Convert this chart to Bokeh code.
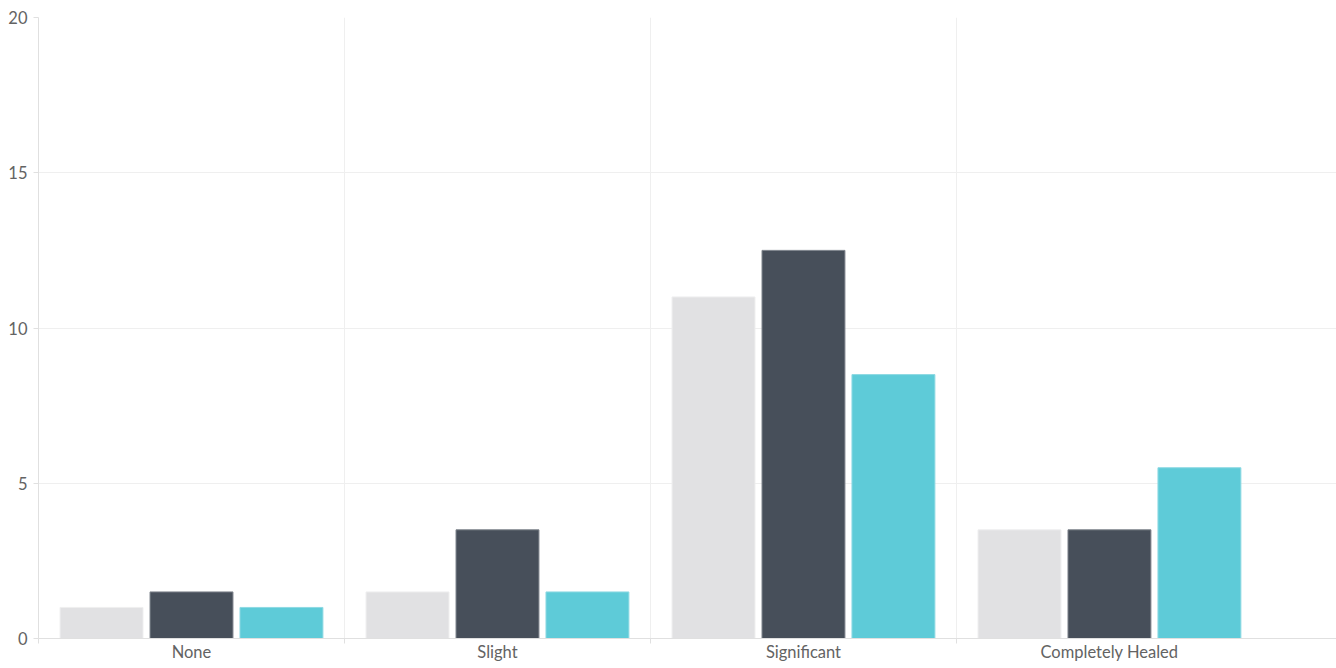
from bokeh.plotting import figure
from bokeh.models import Range1d, FixedTicker, ColumnDataSource
from bokeh.embed import file_html
from bokeh.resources import INLINE

categories = ["None", "Slight", "Significant", "Completely Healed"]
series_a = [1, 1.5, 11, 3.5]
series_b = [1.5, 3.5, 12.5, 3.5]
series_c = [1, 1.5, 8.5, 5.5]
y_ticks = [0, 5, 10, 15, 20]

fills = ["#e1e1e3", "#474f5a", "#5ecbd8"]
borders = ["#eeeeef", "#7d838b", "#8ed9e3"]

FONT = "Lato"
TXT = "#636363"
GRID = "#efefef"
AXIS = "#e0e0e0"

p = figure(width=1336, height=668, output_backend="svg", toolbar_location=None,
           x_range=Range1d(0, 4.242), y_range=Range1d(0, 20),
           min_border_left=38, min_border_top=17, min_border_right=0, min_border_bottom=30)
p.outline_line_color = None
p.background_fill_color = "white"
p.border_fill_color = "white"

centers = [i + 0.5 for i in range(len(categories))]
offsets = [-0.294, 0.0, 0.294]
for k, vals in enumerate([series_a, series_b, series_c]):
    src = ColumnDataSource(dict(x=[c + offsets[k] for c in centers], top=vals))
    p.vbar(x="x", top="top", bottom=0, width=0.271, source=src,
           fill_color=fills[k], line_color=borders[k], line_width=1)

# x axis
xa = p.xaxis[0]
xa.ticker = FixedTicker(ticks=centers, minor_ticks=[0, 1, 2, 3])
xa.major_label_overrides = {c: lab for c, lab in zip(centers, categories)}
xa.major_tick_out = 0
xa.major_tick_in = 0
xa.minor_tick_out = 5
xa.minor_tick_in = 0
xa.minor_tick_line_color = AXIS
xa.axis_line_color = AXIS
xa.major_label_text_font = FONT
xa.major_label_text_font_size = "16.5px"
xa.major_label_text_color = TXT
xa.major_label_standoff = -2

ya = p.yaxis[0]
ya.ticker = FixedTicker(ticks=y_ticks, minor_ticks=[])
ya.major_tick_out = 5
ya.major_tick_in = 0
ya.major_tick_line_color = AXIS
ya.axis_line_color = AXIS
ya.major_label_text_font = FONT
ya.major_label_text_font_size = "16.5px"
ya.major_label_text_color = TXT
ya.major_label_standoff = 6

p.xgrid.ticker = FixedTicker(ticks=[1, 2, 3])
p.xgrid.grid_line_color = GRID
p.ygrid.ticker = FixedTicker(ticks=y_ticks)
p.ygrid.grid_line_color = GRID

open("out.html", "w").write(file_html(p, INLINE))
